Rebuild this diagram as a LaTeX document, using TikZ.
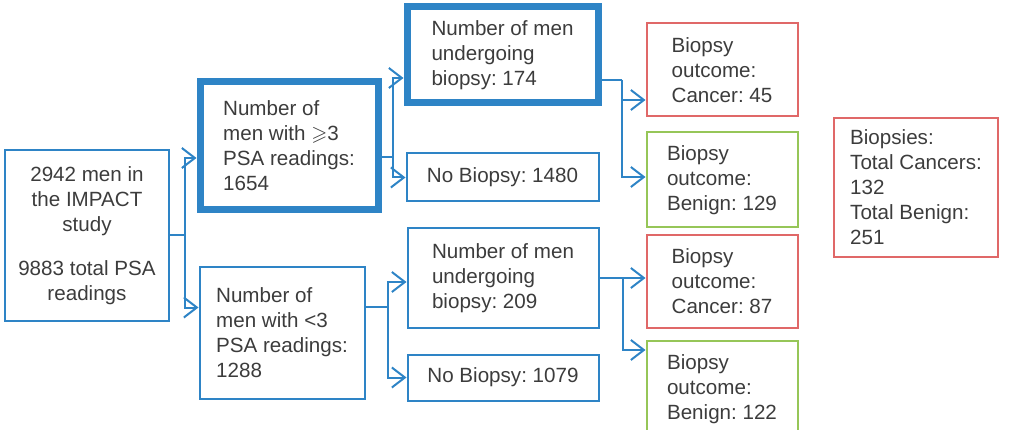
\documentclass[tikz,border=0pt]{standalone}
\usepackage{amssymb}
\usepackage{fontspec}
\setmainfont{Liberation Sans}
\usetikzlibrary{positioning,arrows.meta,calc}
\definecolor{flowblue}{RGB}{46,132,198}
\definecolor{cancerred}{RGB}{224,104,104}
\definecolor{benigngreen}{RGB}{150,198,88}
\definecolor{txtgray}{RGB}{60,60,60}
\frenchspacing

\begin{document}
\begin{tikzpicture}[
  x=1pt, y=-1pt,
  fbox/.style={draw=flowblue, line width=2pt, inner sep=0pt, align=left, text=txtgray, font={\fontsize{20.6}{25}\selectfont}},
  fthick/.style={fbox, line width=7pt},
  cbox/.style={fbox, draw=cancerred, minimum width=151pt},
  bbox/.style={fbox, draw=benigngreen, minimum width=151pt},
  flink/.style={draw=flowblue, line width=2pt},
  farrow/.style={flink, -{Straight Barb[length=13pt,width=20pt]}}
]
\useasboundingbox (0,0) rectangle (1011,430);
\clip (0,0) rectangle (1011,430);

\node[fbox, align=center, minimum width=164pt, minimum height=171pt] (all) at (87,235.5) {2942 men in\\the IMPACT\\study\\[19pt]9883 total PSA\\readings};

\node[fthick, minimum width=178pt, minimum height=128pt] (many) at (289,146) {Number of\\men with $\geqslant$3\\PSA readings:\\1654};
\node[fbox, minimum width=165pt, minimum height=132pt] (few) at (282,332.5) {Number of\\men with <3\\PSA readings:\\1288};

\node[fthick, minimum width=191pt, minimum height=96pt] (bxmany) at (502.5,55) {Number of men\\undergoing\\biopsy: 174};
\node[fbox, minimum width=192pt, minimum height=48pt] (nobxmany) at (502.5,177.5) {No Biopsy: 1480};
\node[fbox, minimum width=191pt, minimum height=99pt] (bxfew) at (503,278) {Number of men\\undergoing\\biopsy: 209};
\node[fbox, minimum width=191pt, minimum height=46pt] (nobxfew) at (503,377.5) {No Biopsy: 1079};

\node[cbox, minimum height=93pt] (canmany) at (722,70) {Biopsy\\outcome:\\Cancer: 45};
\node[bbox, minimum height=95pt] (benmany) at (722,180) {Biopsy\\outcome:\\Benign: 129};
\node[cbox, minimum height=92pt] (canfew) at (722,281.5) {Biopsy\\outcome:\\Cancer: 87};
\node[bbox, minimum height=97pt] (benfew) at (722,389) {Biopsy\\outcome:\\Benign: 122};

\node[cbox, minimum width=164pt, minimum height=139pt] (totals) at (916,187.5) {Biopsies:\\Total Cancers:\\132\\Total Benign:\\251};

\draw[flink] (all.east) -- ++(15,0) coordinate (j0);
\draw[farrow] (j0) |- ($(many.west)+(0,12)$);
\draw[farrow] (j0) |- ($(few.west)+(0,-25)$);

\draw[flink] ($(many.east)+(0,11)$) -- ++(11,0) coordinate (j1);
\draw[farrow] (j1) |- ($(bxmany.west)+(0,23)$);
\draw[farrow] (j1) |- (nobxmany.west);

\draw[flink] ($(few.east)+(0,-25.5)$) -- ++(22,0) coordinate (j2);
\draw[farrow] (j2) |- ($(bxfew.west)+(0,4)$);
\draw[farrow] (j2) |- (nobxfew.west);

\draw[flink] ($(bxmany.east)+(0,25)$) -- ++(20,0) coordinate (j3);
\draw[farrow] (j3) |- ($(canmany.west)+(0,30)$);
\draw[farrow] (j3) |- ($(benmany.west)+(0,-3)$);

\draw[flink] (bxfew.east) -- ++(23,0) coordinate (j4);
\draw[farrow] (j4) |- ($(canfew.west)+(0,-3.5)$);
\draw[farrow] (j4) |- ($(benfew.west)+(0,-39)$);
\end{tikzpicture}
\end{document}
